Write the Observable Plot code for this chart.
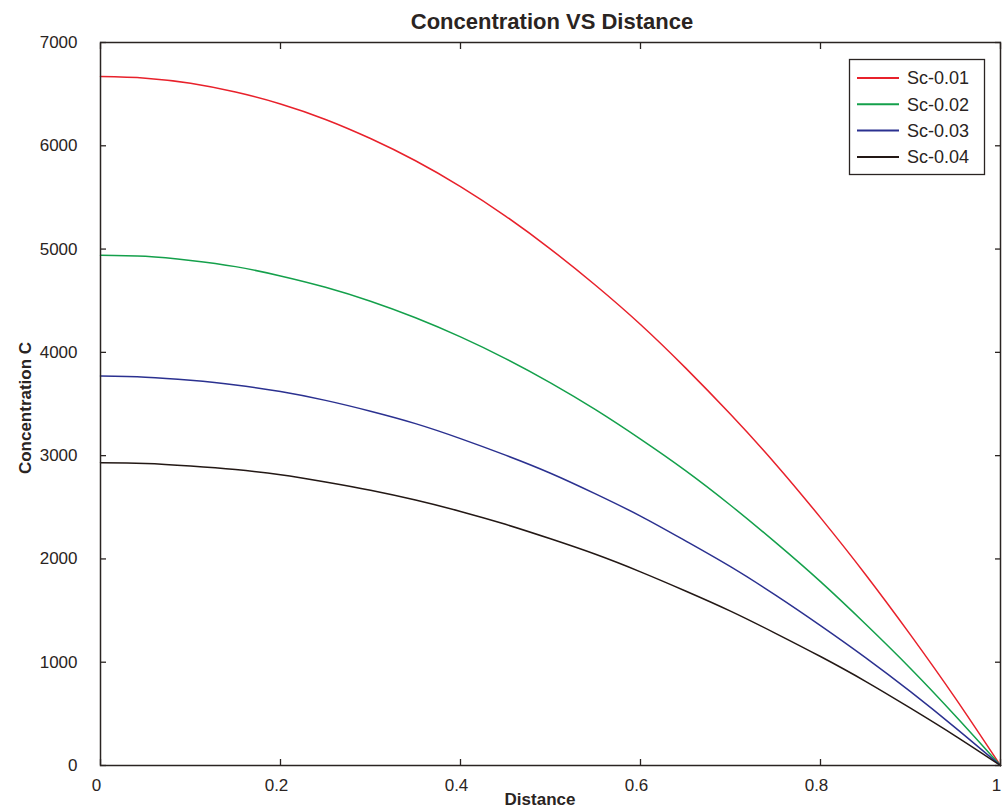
<!DOCTYPE html>
<html>
<head>
<meta charset="utf-8">
<script src="https://cdn.jsdelivr.net/npm/d3@7"></script>
<script src="https://cdn.jsdelivr.net/npm/@observablehq/plot@0.6"></script>
<style>
  html, body { margin: 0; padding: 0; background: #fff; }
  #chart svg { display: block; }
</style>
</head>
<body>
<div id="chart"></div>
<script>
// ---- data ----
const distance = [0, 0.05, 0.1, 0.15, 0.2, 0.25, 0.3, 0.35, 0.4, 0.45, 0.5, 0.55, 0.6, 0.65, 0.7, 0.75, 0.8, 0.85, 0.9, 0.95, 1];
const sc001 = [6670, 6655, 6605, 6520, 6405, 6255, 6070, 5855, 5605, 5320, 5000, 4650, 4270, 3850, 3400, 2920, 2400, 1850, 1265, 650, 0];
const sc002 = [4940, 4930, 4890, 4830, 4740, 4630, 4495, 4335, 4150, 3940, 3705, 3445, 3160, 2855, 2520, 2160, 1780, 1370, 940, 480, 0];
const sc003 = [3770, 3760, 3730, 3685, 3620, 3535, 3430, 3310, 3165, 3005, 2830, 2630, 2415, 2175, 1925, 1650, 1355, 1045, 715, 365, 0];
const sc004 = [2930, 2925, 2900, 2865, 2815, 2745, 2665, 2570, 2460, 2335, 2195, 2045, 1875, 1690, 1495, 1280, 1055, 815, 555, 285, 0];
const seriesNames = ["Sc-0.01", "Sc-0.02", "Sc-0.03", "Sc-0.04"];
const seriesValues = [sc001, sc002, sc003, sc004];
const seriesColors = ["#e8212b", "#14a04b", "#2b3190", "#231815"];
const xTicks = [0, 0.2, 0.4, 0.6, 0.8, 1];
const yTicks = [0, 1000, 2000, 3000, 4000, 5000, 6000, 7000];
const titleText = "Concentration VS Distance";
const xLabel = "Distance";
const yLabel = "Concentration C";

const rows = [];
seriesNames.forEach((name, i) => {
  distance.forEach((d, j) => rows.push({series: name, x: d, y: seriesValues[i][j]}));
});

const font = "'Liberation Sans', Arial, Helvetica, sans-serif";
const ink = "#2a2422";

const W = 1008, H = 812;
const mL = 100, mR = 8, mT = 42, mB = 47;

const plot = Plot.plot({
  width: W, height: H,
  marginLeft: mL, marginRight: mR, marginTop: mT, marginBottom: mB,
  style: {fontFamily: font, color: ink, background: "#fff", overflow: "visible"},
  x: {domain: [0, 1]},
  y: {domain: [0, 7000]},
  color: {domain: seriesNames, range: seriesColors},
  marks: [
    // inward tick marks on all four sides
    Plot.axisX(xTicks, {anchor: "bottom", tickSize: -6, tickFormat: () => "", stroke: ink, strokeWidth: 1.3, label: null}),
    Plot.axisX(xTicks, {anchor: "top", tickSize: -6, tickFormat: () => "", stroke: ink, strokeWidth: 1.3, label: null}),
    Plot.axisY(yTicks, {anchor: "left", tickSize: -6, tickFormat: () => "", stroke: ink, strokeWidth: 1.3, label: null}),
    Plot.axisY(yTicks, {anchor: "right", tickSize: -6, tickFormat: () => "", stroke: ink, strokeWidth: 1.3, label: null}),
    // tick labels
    Plot.axisX(xTicks, {anchor: "bottom", tickSize: 0, tickPadding: 13, dx: -4, fontSize: 17, fill: ink, label: null, tickFormat: d => String(d)}),
    Plot.axisY(yTicks, {anchor: "left", tickSize: 0, tickPadding: 23, fontSize: 17, fill: ink, label: null, tickFormat: d => String(d)}),
    Plot.line(rows, {x: "x", y: "y", z: "series", stroke: "series", strokeWidth: 1.5, curve: "natural"}),
    Plot.frame({stroke: ink, strokeWidth: 1.5})
  ]
});

document.getElementById("chart").appendChild(plot);

const svg = d3.select(plot);

// title
svg.append("text")
  .attr("x", 552).attr("y", 29)
  .attr("text-anchor", "middle")
  .attr("font-family", font).attr("font-weight", "bold").attr("font-size", 22)
  .attr("fill", ink)
  .text(titleText);

// x label
svg.append("text")
  .attr("x", 540).attr("y", 805)
  .attr("text-anchor", "middle")
  .attr("font-family", font).attr("font-weight", "bold").attr("font-size", 17)
  .attr("fill", ink)
  .text(xLabel);

// y label
svg.append("text")
  .attr("transform", "translate(31,408) rotate(-90)")
  .attr("text-anchor", "middle")
  .attr("font-family", font).attr("font-weight", "bold").attr("font-size", 17)
  .attr("fill", ink)
  .text(yLabel);

// legend
const lg = svg.append("g");
lg.append("rect")
  .attr("x", 849.5).attr("y", 59.5).attr("width", 135).attr("height", 115)
  .attr("fill", "#fff").attr("stroke", ink).attr("stroke-width", 1.3);
seriesNames.forEach((name, i) => {
  const yy = 78 + i * 26.3;
  lg.append("line")
    .attr("x1", 857).attr("x2", 899).attr("y1", yy).attr("y2", yy)
    .attr("stroke", seriesColors[i]).attr("stroke-width", 2);
  lg.append("text")
    .attr("x", 907).attr("y", yy).attr("dy", "0.35em")
    .attr("text-anchor", "start")
    .attr("font-family", font).attr("font-size", 18)
    .attr("fill", ink)
    .text(name);
});
</script>
</body>
</html>
